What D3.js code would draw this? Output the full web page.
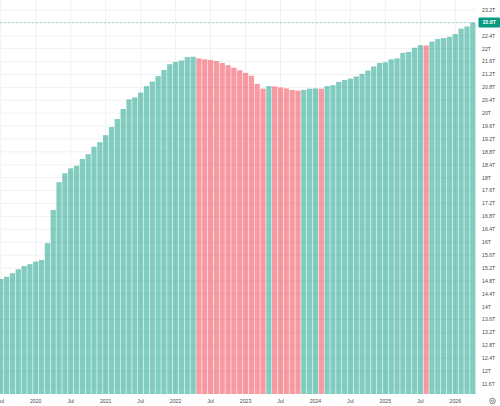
<!DOCTYPE html>
<html><head><meta charset="utf-8">
<script src="https://cdn.jsdelivr.net/npm/d3@7"></script>
<style>html,body{margin:0;padding:0;background:#fff;overflow:hidden}</style>
</head><body>
<svg id="c" width="500" height="406"></svg>
<script>
// Monthly values (trillions), Jul 2019 .. Apr 2026
const startYear = 2019, startMonth = 6; // July (0-based)
const values = [
 14.86,14.93,15.04,15.16,15.26,15.32,15.40,15.45,15.97,17.00,
 17.86,18.14,18.29,18.37,18.58,18.73,18.96,19.10,19.32,19.57,
 19.82,20.13,20.43,20.49,20.64,20.84,20.98,21.15,21.34,21.52,
 21.59,21.63,21.74,21.75,21.70,21.67,21.65,21.62,21.56,21.49,
 21.41,21.33,21.25,21.16,20.91,20.76,20.84,20.83,20.80,20.77,
 20.72,20.70,20.72,20.76,20.77,20.76,20.84,20.87,20.97,21.03,
 21.07,21.14,21.22,21.32,21.45,21.56,21.58,21.67,21.70,21.87,
 21.90,22.03,22.11,22.10,22.22,22.30,22.33,22.37,22.45,22.62,
 22.69,22.81
];
const yTicks = d3.range(0, 30).map(i => +(11.6 + i * 0.4).toFixed(1));
const monthNames = ["Jan","Feb","Mar","Apr","May","Jun","Jul","Aug","Sep","Oct","Nov","Dec"];

const UP = "#089981", DOWN = "#f23645";
const W = 500, H = 406;
const plot = {left: 0, right: 475.6, top: 0, bottom: 394};

const dates = values.map((v, i) => new Date(startYear, startMonth + i, 1));
const idx = d3.range(values.length);

const step = 5.82;
const x = d3.scaleBand().domain(idx)
  .range([36 - 6 * step - step / 2, 36 - 6 * step - step / 2 + values.length * step])
  .paddingInner(0.1).paddingOuter(0);
const y = d3.scaleLinear().domain([11.6, 23.2]).range([384.1, 10]);

const svg = d3.select("#c");
const g = svg.append("g");

// horizontal grid
g.selectAll("line.hg").data(yTicks).join("line")
  .attr("x1", plot.left).attr("x2", plot.right)
  .attr("y1", d => y(d)).attr("y2", d => y(d))
  .attr("stroke", "#f0f1f4").attr("stroke-width", 1);

// x ticks: Jan & Jul
const xTickIdx = idx.filter(i => dates[i].getMonth() === 0 || dates[i].getMonth() === 6);
const cx = i => x(i) + x.bandwidth() / 2;
g.selectAll("line.vg").data(xTickIdx).join("line")
  .attr("x1", d => cx(d)).attr("x2", d => cx(d))
  .attr("y1", plot.top).attr("y2", plot.bottom)
  .attr("stroke", "#f0f1f4").attr("stroke-width", 1);

// bars
g.selectAll("rect.bar").data(idx).join("rect")
  .attr("x", d => x(d)).attr("width", x.bandwidth())
  .attr("y", d => y(values[d])).attr("height", d => plot.bottom - y(values[d]))
  .attr("fill", d => (d === 0 || values[d] >= values[d - 1]) ? UP : DOWN)
  .attr("fill-opacity", 0.5);

// last value dashed line
const last = values[values.length - 1];
g.append("line").attr("x1", plot.left).attr("x2", plot.right)
  .attr("y1", y(last)).attr("y2", y(last))
  .attr("stroke", UP).attr("stroke-opacity", 0.35).attr("stroke-dasharray", "2,2").attr("stroke-width", 1);

// y labels
const fmt = v => (+v.toFixed(1)).toString() + "T";
const font = "'Liberation Sans', Arial, sans-serif";
svg.selectAll("text.yl").data(yTicks.filter(t => Math.abs(y(t) - y(last)) > 6)).join("text")
  .attr("x", 482).attr("y", d => y(d)).attr("dy", "0.35em")
  .attr("font-family", font).attr("font-size", 5.2).attr("fill", "#4a4a4a")
  .text(fmt);

// x labels
svg.selectAll("text.xl").data(xTickIdx).join("text")
  .attr("x", d => cx(d)).attr("y", 401).attr("dy", "0.35em").attr("text-anchor", "middle")
  .attr("font-family", font).attr("font-size", 5.2).attr("fill", "#4a4a4a")
  .text(d => dates[d].getMonth() === 0 ? String(dates[d].getFullYear()) : monthNames[dates[d].getMonth()]);

// last value badge
svg.append("rect").attr("x", 478.5).attr("y", y(last) - 5).attr("width", 21.5).attr("height", 10)
  .attr("rx", 1).attr("fill", UP);
svg.append("text").attr("x", 489.3).attr("y", y(last)).attr("dy", "0.35em").attr("text-anchor", "middle")
  .attr("font-family", font).attr("font-size", 5.2).attr("fill", "#fff").attr("font-weight", "bold")
  .text(fmt(last));

// settings icon bottom-right
svg.append("circle").attr("cx", 492.5).attr("cy", 401).attr("r", 2.8)
  .attr("fill", "none").attr("stroke", "#555").attr("stroke-width", 0.7);
svg.append("circle").attr("cx", 492.5).attr("cy", 401).attr("r", 1)
  .attr("fill", "none").attr("stroke", "#555").attr("stroke-width", 0.6);
</script>
</body></html>
